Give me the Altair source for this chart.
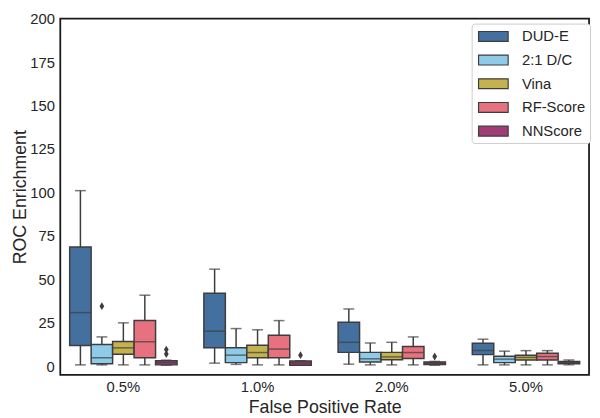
import altair as alt
import pandas as pd

categories = ["0.5%", "1.0%", "2.0%", "5.0%"]
series = ["DUD-E", "2:1 D/C", "Vina", "RF-Score", "NNScore"]
colors = ["#44709f", "#8ecbe8", "#c4b24f", "#e8717f", "#a13c76"]

# box statistics per series, one value per category
whisker_low = {
    "DUD-E":    [0.7, 1.7, 1.1, 0.7],
    "2:1 D/C":  [0.7, 1.0, 0.7, 0.7],
    "Vina":     [0.7, 0.7, 0.7, 0.7],
    "RF-Score": [0.7, 0.7, 0.7, 0.7],
    "NNScore":  [0.5, 0.5, 0.5, 0.7],
}
q1 = {
    "DUD-E":    [11.8, 10.5, 7.9, 6.6],
    "2:1 D/C":  [1.3, 2.0, 2.4, 2.0],
    "Vina":     [6.8, 4.8, 3.7, 3.5],
    "RF-Score": [4.8, 4.8, 4.4, 3.5],
    "NNScore":  [0.7, 0.5, 0.9, 1.3],
}
median = {
    "DUD-E":    [30.8, 20.1, 13.7, 9.0],
    "2:1 D/C":  [4.8, 6.3, 4.2, 4.0],
    "Vina":     [10.5, 7.8, 5.3, 5.0],
    "RF-Score": [14.0, 9.8, 7.8, 5.5],
    "NNScore":  [1.9, 1.8, 1.7, 1.9],
}
q3 = {
    "DUD-E":    [68.5, 41.9, 25.3, 13.1],
    "2:1 D/C":  [12.4, 10.5, 7.9, 5.7],
    "Vina":     [14.2, 12.0, 7.9, 6.3],
    "RF-Score": [26.2, 17.7, 11.3, 7.4],
    "NNScore":  [3.1, 2.9, 2.4, 2.6],
}
whisker_high = {
    "DUD-E":    [101.0, 55.8, 32.9, 15.5],
    "2:1 D/C":  [16.8, 21.6, 13.3, 8.6],
    "Vina":     [24.9, 20.9, 13.7, 8.9],
    "RF-Score": [40.8, 26.2, 16.8, 8.9],
    "NNScore":  [3.4, 3.1, 2.7, 3.5],
}
outlier_cat = ["0.5%", "0.5%", "0.5%", "1.0%", "2.0%"]
outlier_series = ["2:1 D/C", "NNScore", "NNScore", "NNScore", "NNScore"]
outlier_value = [34.5, 7.0, 9.5, 6.3, 5.5]

rows = []
for s in series:
    for j, c in enumerate(categories):
        rows.append(dict(cat=c, series=s, lo=whisker_low[s][j], q1=q1[s][j],
                         med=median[s][j], q3=q3[s][j], hi=whisker_high[s][j]))
df = pd.DataFrame(rows)
out = pd.DataFrame(dict(cat=outlier_cat, series=outlier_series, v=outlier_value))

dark = "#3d3d3d"
font = "Liberation Sans"

x = alt.X("cat:N", sort=categories,
          scale=alt.Scale(paddingInner=0.2, paddingOuter=0.07),
          axis=alt.Axis(title="False Positive Rate", labelAngle=0, ticks=False,
                        domain=False, labelPadding=5, titlePadding=4))
xo = alt.XOffset("series:N", sort=series,
                 scale=alt.Scale(paddingInner=0, paddingOuter=0))
yscale = alt.Scale(domain=[-5, 200], nice=False, zero=False)
yaxis = alt.Axis(title="ROC Enrichment", values=list(range(0, 201, 25)),
                 ticks=False, domain=False, grid=False, labelPadding=6,
                 titlePadding=0)

base = alt.Chart(df)

low_whisk = base.mark_rule(color=dark, strokeWidth=1.5).encode(
    x=x, xOffset=xo, y=alt.Y("lo:Q", scale=yscale, axis=yaxis), y2="q1:Q")
high_whisk = base.mark_rule(color=dark, strokeWidth=1.5).encode(
    x=x, xOffset=xo, y=alt.Y("q3:Q", scale=yscale, axis=yaxis), y2="hi:Q")
low_cap = base.mark_tick(color=dark, size=11, thickness=1.5).encode(
    x=x, xOffset=xo, y=alt.Y("lo:Q", scale=yscale, axis=yaxis))
high_cap = base.mark_tick(color=dark, size=11, thickness=1.5).encode(
    x=x, xOffset=xo, y=alt.Y("hi:Q", scale=yscale, axis=yaxis))
box = base.mark_bar(stroke=dark, strokeWidth=1.5, opacity=1).encode(
    x=x, xOffset=xo,
    y=alt.Y("q1:Q", scale=yscale, axis=yaxis), y2="q3:Q",
    color=alt.Color("series:N", sort=series,
                    scale=alt.Scale(domain=series, range=colors),
                    legend=alt.Legend(title=None)))
med = base.mark_tick(color=dark, size=21, thickness=1.5).encode(
    x=x, xOffset=xo, y=alt.Y("med:Q", scale=yscale, axis=yaxis))
outl = alt.Chart(out).mark_point(shape="M0,-1L0.6,0L0,1L-0.6,0Z", filled=True,
                                 color=dark, size=64, opacity=1).encode(
    x=x, xOffset=xo, y=alt.Y("v:Q", scale=yscale, axis=yaxis))

chart = alt.layer(low_whisk, high_whisk, low_cap, high_cap, box, med, outl).properties(
    width=536, height=361,
    autosize=alt.AutoSizeParams(type="none"),
    padding={"left": 53, "top": 8, "right": 3, "bottom": 41},
).configure_view(
    stroke="#1a1a1a", strokeWidth=1.8
).configure_axis(
    labelFont=font, titleFont=font, labelFontSize=15, titleFontSize=18,
    titleFontWeight="normal", labelColor="#262626", titleColor="#262626",
).configure_legend(
    orient="none", legendX=417, legendY=5, padding=4,
    strokeColor="#cccccc", fillColor="white", cornerRadius=3,
    labelFont=font, labelFontSize=15, labelColor="#262626",
    symbolType="M-1.875,-0.625H1.875V0.625H-1.875Z", symbolSize=256,
    symbolStrokeColor=dark, symbolStrokeWidth=1.2, symbolOpacity=1,
    symbolOffset=9, labelOffset=20, rowPadding=7,
)

chart.save("out.html", embed_options={"renderer": "svg", "actions": False})
